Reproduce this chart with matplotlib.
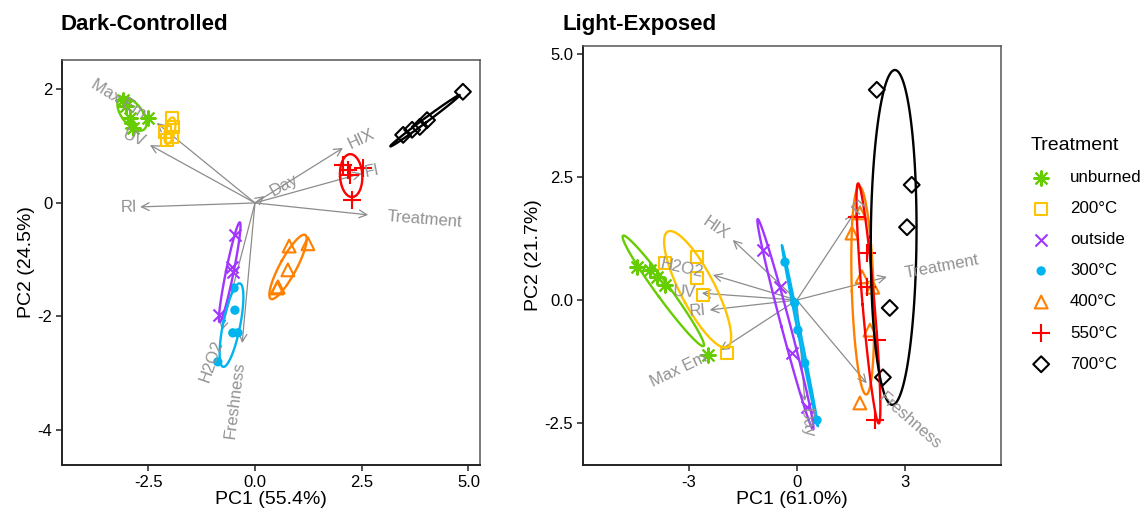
import numpy as np
import matplotlib
matplotlib.use('Agg')
import matplotlib.pyplot as plt
from matplotlib.font_manager import FontProperties
from matplotlib.textpath import TextPath

plt.rcParams['font.family'] = ['Liberation Sans', 'DejaVu Sans']
plt.rcParams['axes.unicode_minus'] = False

# groups (legend order)
treatments = ['unburned', '200°C', 'outside', '300°C', '400°C', '550°C', '700°C']
colors = ['#66CD00', '#FFC400', '#A035FF', '#00B4F0', '#FF8000', '#FF0000', '#000000']
markers = [(8, 2, 0), 's', 'x', 'o', '^', '+', 'D']
sizes = [110, 70, 75, 45, 85, 150, 65]

# Dark-Controlled scores, one list per treatment
dark_pc1 = [
    [-3.09, -2.93, -2.51, -2.86, -3.02],
    [-1.94, -1.92, -2.11, -2.06, -1.94],
    [-0.47, -0.54, -0.52, -0.84],
    [-0.49, -0.47, -0.52, -0.40, -0.87],
    [0.80, 1.24, 0.77, 0.54, 0.52],
    [2.06, 2.18, 2.53, 2.22, 2.27],
    [4.87, 4.03, 3.86, 3.68, 3.47],
]
dark_pc2 = [
    [1.82, 1.50, 1.50, 1.32, 1.71],
    [1.50, 1.34, 1.25, 1.11, 1.16],
    [-0.56, -1.13, -1.22, -1.98],
    [-1.50, -1.89, -2.29, -2.29, -2.80],
    [-0.76, -0.72, -1.18, -1.48, -1.50],
    [0.67, 0.58, 0.62, 0.49, 0.05],
    [1.96, 1.46, 1.34, 1.29, 1.20],
]
dark_vars = ['Max Em', 'UV', 'RI', 'Day', 'HIX', 'FI', 'Treatment', 'H2O2', 'Freshness']
dark_load1 = [-2.30, -2.46, -2.69, 0.22, 2.06, 2.50, 2.65, -0.78, -0.30]
dark_load2 = [1.41, 1.02, -0.07, 0.12, 0.97, 0.52, -0.21, -2.25, -2.47]

# Light-Exposed scores
light_pc1 = [
    [-4.44, -4.08, -3.89, -3.67, -2.47],
    [-3.67, -2.78, -2.78, -2.61, -1.94],
    [-0.94, -0.47, -0.14, 0.28],
    [-0.33, -0.06, 0.03, 0.22, 0.56],
    [1.53, 1.75, 1.81, 2.11, 2.03, 1.75],
    [1.67, 1.94, 1.94, 2.22, 2.17],
    [2.22, 3.19, 3.06, 2.58, 2.39],
]
light_pc2 = [
    [0.67, 0.61, 0.47, 0.30, -1.12],
    [0.75, 0.87, 0.45, 0.10, -1.08],
    [1.02, 0.26, -1.08, -2.17],
    [0.77, -0.06, -0.61, -1.28, -2.44],
    [1.36, 1.77, 0.47, 0.26, -0.61, -2.09],
    [1.69, 0.96, 0.26, -0.81, -2.44],
    [4.27, 2.34, 1.48, -0.16, -1.57],
]
light_vars = ['HIX', 'H2O2', 'UV', 'RI', 'Max Em', 'FI', 'Treatment', 'Freshness', 'Day']
light_load1 = [-1.78, -2.33, -2.64, -2.42, -2.14, 1.58, 2.50, 1.94, 0.22]
light_load2 = [1.22, 0.51, 0.14, -0.20, -1.02, 1.75, 0.47, -1.69, -2.05]

ARROW_GRAY = '#8c8c8c'
LABEL_GRAY = '#929292'
VAR_FS = 12


def ellipse(x, y, prob=0.68, n=120):
    pts = np.column_stack([x, y])
    mu = pts.mean(axis=0)
    cov = np.cov(pts.T)
    r = np.sqrt(-2 * np.log(1 - prob))
    evals, evecs = np.linalg.eigh(cov)
    evals = np.clip(evals, 0, None)
    t = np.linspace(0, 2 * np.pi, n)
    circ = np.vstack([np.cos(t), np.sin(t)])
    e = (evecs @ np.diag(np.sqrt(evals)) @ circ) * r
    return mu[0] + e[0], mu[1] + e[1]


def biplot(ax, pc1, pc2, names, l1, l2, with_labels=False):
    fp = FontProperties(family='Liberation Sans', size=VAR_FS)
    for lx, ly in zip(l1, l2):
        ax.annotate('', xy=(lx, ly), xytext=(0, 0),
                    arrowprops=dict(arrowstyle='->,head_length=0.55,head_width=0.28',
                                    color=ARROW_GRAY, lw=0.9, shrinkA=0, shrinkB=0),
                    zorder=1)
    for i, (xs, ys) in enumerate(zip(pc1, pc2)):
        m = markers[i]
        kw = dict(s=sizes[i], marker=m, linewidths=1.5, zorder=2,
                  label=treatments[i] if with_labels else None)
        if m in ('s', '^', 'D'):
            kw.update(facecolors='none', edgecolors=colors[i])
        elif m == 'o':
            kw.update(color=colors[i], edgecolors='none')
        else:
            kw.update(color=colors[i])
        ax.scatter(xs, ys, **kw)
        ex, ey = ellipse(xs, ys)
        ax.plot(ex, ey, color=colors[i], lw=1.7, zorder=3)
    for name, lx, ly in zip(names, l1, l2):
        ang = np.degrees(np.arctan(ly / lx))
        sgn = 1 if lx > 0 else -1
        w = TextPath((0, 0), name, size=VAR_FS, prop=fp).get_extents().width
        gap = 0.25 * w
        dx = sgn * gap * np.cos(np.radians(ang))
        dy = sgn * gap * np.sin(np.radians(ang))
        ax.annotate(name, xy=(lx, ly), xytext=(dx, dy), textcoords='offset points',
                    rotation=ang, rotation_mode='anchor',
                    ha='left' if sgn > 0 else 'right', va='center',
                    color=LABEL_GRAY, fontsize=VAR_FS, zorder=5)


def style(ax):
    for s in ax.spines.values():
        s.set_color('#555555')
        s.set_linewidth(1.1)
    ax.spines['bottom'].set_color('#222222')
    ax.spines['left'].set_color('#222222')
    ax.spines['bottom'].set_linewidth(1.4)
    ax.spines['left'].set_linewidth(1.4)
    ax.tick_params(direction='out', length=4, width=1.1, colors='#222222',
                   labelsize=12, labelcolor='black', pad=3)


fig = plt.figure(figsize=(11.46, 5.14), dpi=100)
W, H = 1146.0, 514.0
ax1 = fig.add_axes([62 / W, 1 - 465 / H, 418 / W, 405 / H])
ax2 = fig.add_axes([583 / W, 1 - 465 / H, 418 / W, 419 / H])

biplot(ax1, dark_pc1, dark_pc2, dark_vars, dark_load1, dark_load2)
biplot(ax2, light_pc1, light_pc2, light_vars, light_load1, light_load2, with_labels=True)

ax1.set_xlim(-4.52, 5.27)
ax1.set_ylim(-4.62, 2.52)
ax1.set_xticks([-2.5, 0, 2.5, 5.0])
ax1.set_xticklabels(['-2.5', '0.0', '2.5', '5.0'])
ax1.set_yticks([-4, -2, 0, 2])
ax1.set_yticklabels(['-4', '-2', '0', '2'])

ax2.set_xlim(-5.94, 5.67)
ax2.set_ylim(-3.35, 5.16)
ax2.set_xticks([-3, 0, 3])
ax2.set_xticklabels(['-3', '0', '3'])
ax2.set_yticks([-2.5, 0, 2.5, 5.0])
ax2.set_yticklabels(['-2.5', '0.0', '2.5', '5.0'])

for ax, xl, yl in [(ax1, 'PC1 (55.4%)', 'PC2 (24.5%)'), (ax2, 'PC1 (61.0%)', 'PC2 (21.7%)')]:
    style(ax)
    ax.set_xlabel(xl, fontsize=14, labelpad=1)
    ax.set_ylabel(yl, fontsize=14, labelpad=2)

fig.text(60 / W, 1 - 24 / H, 'Dark-Controlled', fontsize=16, fontweight='bold',
         ha='left', va='center')
fig.text(562 / W, 1 - 24 / H, 'Light-Exposed', fontsize=16, fontweight='bold',
         ha='left', va='center')

leg = ax2.legend(loc='upper left', bbox_to_anchor=(1031 / W, 1 - 137 / H),
                 bbox_transform=fig.transFigure, frameon=False, title='Treatment',
                 fontsize=12.2, title_fontsize=14, alignment='left',
                 handlelength=1.2, handletextpad=1.1, labelspacing=0.95,
                 borderpad=0, borderaxespad=0)

fig.savefig('out.png', dpi=100)
